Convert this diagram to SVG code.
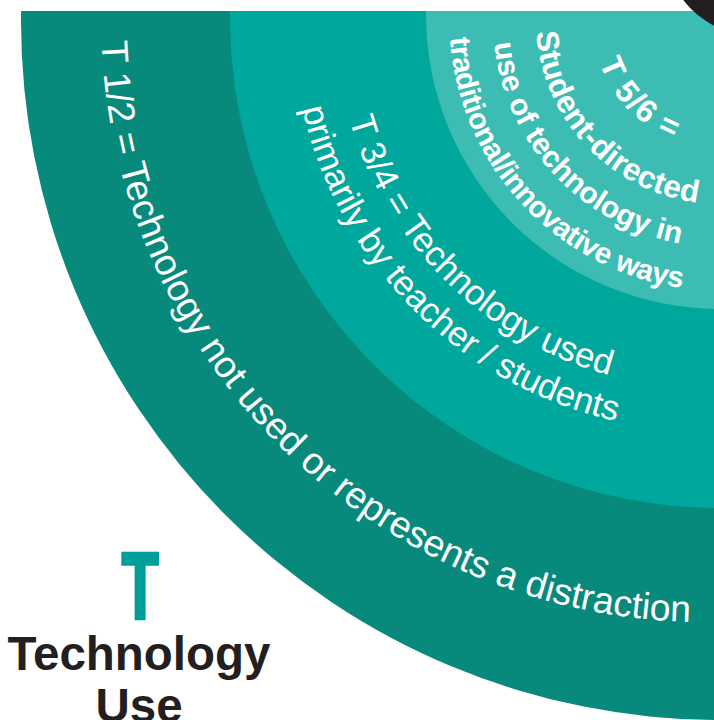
<svg xmlns="http://www.w3.org/2000/svg" xmlns:xlink="http://www.w3.org/1999/xlink" width="714" height="720" viewBox="0 0 714 720">
  <style>
    .lbl { font-family: "Liberation Sans", Arial, sans-serif; fill: #ffffff; }
    .reg { font-weight: normal; }
    .bold { font-weight: bold; }
    .title { font-family: "Liberation Sans", Arial, sans-serif; font-weight: bold; fill: #231f20; text-anchor: middle; }
  </style>
  <defs>
    <clipPath id="clipTop"><rect x="0" y="11" width="714" height="709"/></clipPath>
    <path id="pOuter" d="M101.5,41.3 A605,605 0 0 0 811.1,612.8"/>
    <path id="pMid1" d="M349.4,119.3 A371,371 0 0 0 770.4,382.4"/>
    <path id="pMid2" d="M302.3,108.7 A414,414 0 0 0 777.9,424.7"/>
    <path id="pIn1" d="M599.3,62.5 A128,128 0 0 0 763.8,140.3"/>
    <path id="pIn2" d="M536.4,32.2 A184,184 0 0 0 782.9,192.9"/>
    <path id="pIn3" d="M494.2,43.3 A227,227 0 0 0 797.6,233.3"/>
    <path id="pIn4" d="M450.0,37.9 A270.6,270.6 0 0 0 812.6,274.3"/>
  </defs>
  <rect width="714" height="720" fill="#ffffff"/>
  <g id="rings" clip-path="url(#clipTop)">
    <g id="ring-t12"><circle cx="720" cy="21" r="699" fill="#07897c"/></g>
    <g id="ring-t34"><circle cx="720" cy="18" r="490" fill="#00a79d"/></g>
    <g id="ring-t56"><circle cx="720" cy="15" r="294" fill="#3cbcb2"/></g>
  </g>
  <g id="core"><circle cx="759" cy="-59" r="96" fill="#231f20"/></g>
  <g id="label-t12">
    <text class="lbl reg" font-size="37.3"><textPath xlink:href="#pOuter" href="#pOuter">T 1/2 = Technology not used or represents a distraction</textPath></text>
  </g>
  <g id="label-t34">
    <text class="lbl reg" font-size="35"><textPath xlink:href="#pMid1" href="#pMid1">T 3/4 = Technology used</textPath></text>
    <text class="lbl reg" font-size="35"><textPath xlink:href="#pMid2" href="#pMid2">primarily by teacher / students</textPath></text>
  </g>
  <g id="label-t56">
    <text class="lbl bold" font-size="32"><textPath xlink:href="#pIn1" href="#pIn1" textLength="110" lengthAdjust="spacing">T 5/6 =</textPath></text>
    <text class="lbl bold" font-size="31.5"><textPath xlink:href="#pIn2" href="#pIn2" textLength="254" lengthAdjust="spacing">Student-directed</textPath></text>
    <text class="lbl bold" font-size="30"><textPath xlink:href="#pIn3" href="#pIn3" textLength="293" lengthAdjust="spacing">use of technology in</textPath></text>
    <text class="lbl bold" font-size="29.5"><textPath xlink:href="#pIn4" href="#pIn4" textLength="369" lengthAdjust="spacing">traditional/innovative ways</textPath></text>
  </g>
  <g id="legend">
    <text class="title" font-size="94" style="fill:#009e99;stroke:#009e99;stroke-width:3.5" transform="translate(140,619) scale(0.64,1)" x="0" y="0">T</text>
    <text class="title" font-size="47.5" x="139" y="670">Technology</text>
    <text class="title" font-size="47.5" x="139" y="722">Use</text>
  </g>
</svg>
